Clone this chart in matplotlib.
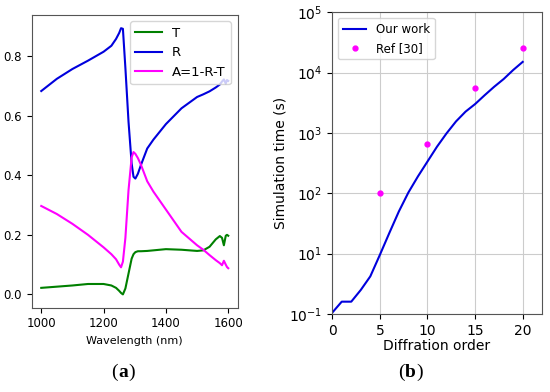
import matplotlib.pyplot as plt

# (a) spectra
wavelength = [1000, 1050, 1100, 1150, 1200, 1225, 1240, 1250, 1256, 1262, 1270, 1280, 1290,
              1296, 1302, 1310, 1320, 1340, 1360, 1400, 1450, 1500, 1520, 1540, 1560, 1573,
              1580, 1586, 1592, 1596, 1600]
T = [0.022, 0.026, 0.030, 0.035, 0.035, 0.030, 0.022, 0.012, 0.005, 0.0, 0.02, 0.07, 0.12,
     0.135, 0.142, 0.145, 0.145, 0.146, 0.148, 0.152, 0.150, 0.146, 0.148, 0.16, 0.185, 0.196,
     0.19, 0.165, 0.197, 0.2, 0.197]
R = [0.683, 0.724, 0.757, 0.785, 0.815, 0.835, 0.858, 0.878, 0.894, 0.892, 0.76, 0.58, 0.44,
     0.395, 0.389, 0.405, 0.435, 0.49, 0.52, 0.572, 0.625, 0.663, 0.672, 0.682, 0.695, 0.705,
     0.715, 0.722, 0.708, 0.72, 0.717]
A = [0.297, 0.27, 0.237, 0.2, 0.158, 0.135, 0.118, 0.1, 0.091, 0.11, 0.19, 0.35, 0.46,
     0.478, 0.472, 0.458, 0.435, 0.38, 0.345, 0.285, 0.21, 0.165, 0.15, 0.132, 0.115, 0.105,
     0.098, 0.113, 0.1, 0.092, 0.088]

# (b) simulation time
orders = list(range(21))
our_time = [1.05, 1.6, 1.6, 2.5, 4.2, 9.5, 22, 50, 103, 190, 335, 590, 980, 1550, 2250,
            3000, 4200, 5800, 7800, 11000, 15000]
ref_orders = [5, 10, 15, 20]
ref_time = [100, 650, 5500, 25000]

fig = plt.figure(figsize=(5.5, 3.92), dpi=100)

ax1 = fig.add_axes([0.058, 0.215, 0.374, 0.747])
ax1.plot(wavelength, T, color='green', lw=1.5, label='T')
ax1.plot(wavelength, R, color='#0000dd', lw=1.5, label='R')
ax1.plot(wavelength, A, color='#ff00ff', lw=1.5, label='A=1-R-T')
ax1.set_xticks([1000, 1200, 1400, 1600])
ax1.set_yticks([0.0, 0.2, 0.4, 0.6, 0.8])
ax1.tick_params(labelsize=8.5)
ax1.set_xlabel('Wavelength (nm)', fontsize=8)
ax1.legend(loc='upper right', fontsize=9.5, handlelength=2.0)
for s in ax1.spines.values():
    s.set_color('#555555')

ax2 = fig.add_axes([0.604, 0.199, 0.381, 0.770])
ax2.plot(orders, our_time, color='#0000dd', lw=1.5, label='Our work')
ax2.plot(ref_orders, ref_time, 'o', color='#ff00ff', ms=3.5, label='Ref [30]')
ax2.set_yscale('log')
ax2.set_xlim(0, 22)
ax2.set_ylim(1, 1e5)
ax2.set_xticks([0, 5, 10, 15, 20])
ax2.set_yticks([1, 10, 100, 1000, 1e4, 1e5])
ax2.set_yticklabels(['$\\mathdefault{10^{-1}}$', '$\\mathdefault{10^{1}}$',
                     '$\\mathdefault{10^{2}}$', '$\\mathdefault{10^{3}}$',
                     '$\\mathdefault{10^{4}}$', '$\\mathdefault{10^{5}}$'])
ax2.minorticks_off()
ax2.grid(True, color='#cccccc', lw=0.8)
ax2.tick_params(labelsize=10)
ax2.set_xlabel('Diffration order', fontsize=10, labelpad=1)
ax2.set_ylabel('Simulation time (s)', fontsize=10, labelpad=1)
ax2.legend(loc='upper left', fontsize=8.5)
for s in ax2.spines.values():
    s.set_color('#555555')

serif = 'Liberation Serif'
fig.text(0.2145, 0.051, '(', fontsize=14, family=serif, ha='right', va='center')
fig.text(0.2145, 0.051, 'a', fontsize=14, family=serif, weight='bold', ha='left', va='center')
fig.text(0.2327, 0.051, ')', fontsize=14, family=serif, ha='left', va='center')
fig.text(0.7364, 0.051, '(', fontsize=14, family=serif, ha='right', va='center')
fig.text(0.7364, 0.051, 'b', fontsize=14, family=serif, weight='bold', ha='left', va='center')
fig.text(0.7564, 0.051, ')', fontsize=14, family=serif, ha='left', va='center')

fig.savefig('out.png', dpi=100)
